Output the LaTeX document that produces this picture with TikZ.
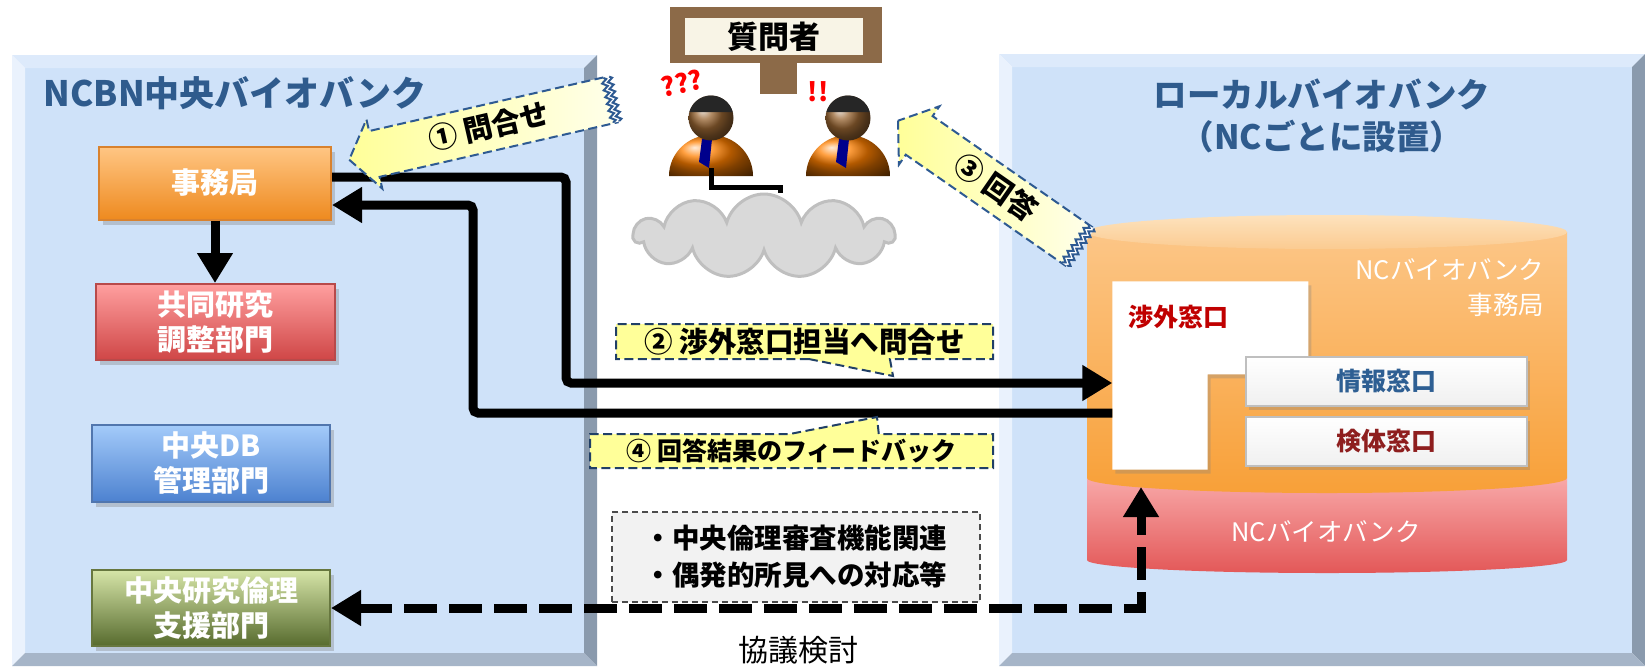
\documentclass[tikz,border=0pt]{standalone}
\usepackage{fontspec}
\setmainfont{Noto Sans CJK JP}
\usetikzlibrary{arrows.meta,shapes.arrows,shapes.callouts,shapes.symbols,shadows,decorations.pathmorphing}

\definecolor{panelface}{HTML}{CFE2F9}
\definecolor{paneltop}{HTML}{DDEAFB}
\definecolor{panelleft}{HTML}{EAF2FD}
\definecolor{panelright}{HTML}{8A9AAD}
\definecolor{panelbottom}{HTML}{A6B5C8}
\definecolor{titleblue}{HTML}{2F5B8D}
\definecolor{memo}{HTML}{FFFF99}
\definecolor{memoline}{HTML}{2E5A92}
\definecolor{wood}{HTML}{8C6A48}
\definecolor{signface}{HTML}{F8F4E6}
\definecolor{orgtop}{HTML}{FCC687}
\definecolor{orgbot}{HTML}{F8A038}
\definecolor{lidtop}{HTML}{FDE2BD}
\definecolor{lidbot}{HTML}{FBCB91}
\definecolor{pinktop}{HTML}{F8A8A8}
\definecolor{pinkbot}{HTML}{E35858}
\definecolor{shogaired}{HTML}{C00000}
\definecolor{jyohoblue}{HTML}{2E5F93}
\definecolor{kentaired}{HTML}{8E1E1E}
\definecolor{jimutop}{HTML}{FFC684}
\definecolor{jimubot}{HTML}{EE8A1F}
\definecolor{jimuline}{HTML}{D9822E}
\definecolor{kyodotop}{HTML}{FF9F9F}
\definecolor{kyodobot}{HTML}{CF4646}
\definecolor{kyodoline}{HTML}{B84A4A}
\definecolor{cdbtop}{HTML}{A4CBFA}
\definecolor{cdbbot}{HTML}{4D82D0}
\definecolor{cdbline}{HTML}{5176AE}
\definecolor{rinritop}{HTML}{D6E5A8}
\definecolor{rinribot}{HTML}{576B2E}
\definecolor{rinriline}{HTML}{67773F}

\tikzset{
  dept/.style={rectangle, inner sep=0, top color=#1top, bottom color=#1bot,
    draw=#1line, line width=0.2mm, text=white, align=center,
    font=\bfseries\fontsize{2.9mm}{3.5mm}\selectfont,
    drop shadow={opacity=0.35, shadow xshift=0.4mm, shadow yshift=-0.5mm}},
  win/.style={rectangle, inner sep=0, minimum width=28.1mm, minimum height=4.9mm,
    top color=white, bottom color=black!6, draw=black!25, line width=0.15mm,
    font=\bfseries\fontsize{2.5mm}{3mm}\selectfont,
    drop shadow={opacity=0.3, shadow xshift=0.3mm, shadow yshift=-0.4mm}},
  flow/.style={line width=0.9mm, rounded corners=0.5mm,
    -{Triangle[length=3mm,width=3.4mm]}},
  dflow/.style={line width=0.9mm, dash pattern=on 3.3mm off 1.2mm,
    {Triangle[length=3mm,width=3.4mm]}-{Triangle[length=3mm,width=3.4mm]}},
  memoarrow/.style={single arrow, shape border rotate=180,
    single arrow tip angle=108, single arrow head extend=1.2mm,
    inner ysep=0.8mm, text height=2.4mm, text depth=0.5mm,
    left color=memo, right color=memo!20, draw=memoline, line width=0.2mm,
    dash pattern=on 0.9mm off 0.45mm,
    font=\bfseries\fontsize{2.9mm}{3.2mm}\selectfont},
  torn/.style={draw=memoline, line width=0.2mm, decorate,
    decoration={zigzag, amplitude=0.25mm, segment length=0.7mm}},
  memobox/.style={rectangle callout, inner sep=0, fill=memo,
    draw=memoline!70!black, line width=0.2mm, dash pattern=on 0.9mm off 0.45mm},
  note/.style={rectangle, fill=black!5, draw=black!70, line width=0.15mm,
    dash pattern=on 0.6mm off 0.4mm, minimum width=36.8mm, minimum height=9mm,
    align=left, font=\bfseries\fontsize{2.75mm}{3.7mm}\selectfont}
}

\begin{document}
\begin{tikzpicture}[x=0.1mm,y=-0.1mm]
\useasboundingbox (0,0) rectangle (1645,666);

% the two bevelled panels
\foreach \l/\r/\t in {12/597/55, 999/1645/54}{
  \fill[panelface] (\l+13,\t+13) rectangle (\r-13,653);
  \fill[paneltop] (\l,\t) -- (\r,\t) -- (\r-13,\t+13) -- (\l+13,\t+13) -- cycle;
  \fill[panelleft] (\l,\t) -- (\l+13,\t+13) -- (\l+13,653) -- (\l,666) -- cycle;
  \fill[panelright] (\r,\t) -- (\r,666) -- (\r-13,653) -- (\r-13,\t+13) -- cycle;
  \fill[panelbottom] (\l,666) -- (\l+13,653) -- (\r-13,653) -- (\r,666) -- cycle;
}

\node[anchor=west, inner sep=0, text=titleblue, font=\bfseries\fontsize{3.5mm}{4mm}\selectfont]
  (ncbn) at (43,93) {NCBN中央バイオバンク};
\node[align=center, inner sep=0, text=titleblue, font=\bfseries\fontsize{3.35mm}{4.2mm}\selectfont]
  (local) at (1322,116) {ローカルバイオバンク\\（NCごとに設置）};

% central biobank units
\node[dept=jimu, minimum width=23.2mm, minimum height=7.3mm]
  (jimu) at (215,183) {事務局};
\node[dept=kyodo, minimum width=23.9mm, minimum height=7.6mm]
  (kyodo) at (215,322) {共同研究\\調整部門};
\node[dept=cdb, minimum width=23.8mm, minimum height=7.7mm]
  (cdb) at (211,463) {中央DB\\管理部門};
\node[dept=rinri, minimum width=23.8mm, minimum height=7.6mm]
  (rinri) at (211,608) {中央研究倫理\\支援部門};
\draw[flow] (jimu) -- (kyodo);

% NC biobank cylinder
\shade[top color=pinktop, bottom color=pinkbot] (1087,478) -- (1087,560)
  arc[start angle=180, end angle=360, x radius=24mm, y radius=1.3mm] -- (1567,478) -- cycle;
\shade[top color=orgtop, bottom color=orgbot] (1087,232) -- (1087,478)
  arc[start angle=180, end angle=360, x radius=24mm, y radius=1.5mm] -- (1567,232) -- cycle;
\shade[top color=lidtop, bottom color=lidbot] (1327,232) ellipse[x radius=24mm, y radius=1.7mm];
\node[anchor=east, align=right, inner sep=0, text=white, font=\fontsize{2.55mm}{3.5mm}\selectfont]
  (ncjimu) at (1545,288) {NCバイオバンク\\事務局};
\node[text=white, inner sep=0, font=\fontsize{2.55mm}{3mm}\selectfont]
  (ncbank) at (1326,532) {NCバイオバンク};

% windows
\node[inner sep=0, minimum width=9.4mm, minimum height=18.7mm] (shogai) at (1160,375.5) {};
\fill[white, drop shadow={opacity=0.3, shadow xshift=0.3mm, shadow yshift=-0.4mm}]
  (shogai.south west) -- (shogai.north west) -- ++(196,0) -- ++(0,93)
  -| (shogai.south east) -- cycle;
\node[anchor=west, inner sep=0, text=shogaired, font=\bfseries\fontsize{2.5mm}{3mm}\selectfont]
  (shogaitxt) at (1128,317) {渉外窓口};
\node[win, text=jyohoblue] (jyoho) at (1386.5,381.5) {情報窓口};
\node[win, text=kentaired] (kentai) at (1386.5,441.5) {検体窓口};

% inquiry and feedback lines
\draw[flow] ([yshift=0.6mm]jimu.east) -| (566,383) -- (shogai.west |- 0,383);
\draw[flow] (shogai.west |- 0,413) -| (473,205) -- (jimu.east |- 0,205);
\coordinate (ncin) at (1141,487);
\draw[dflow] (rinri.east) -| (ncin);

% labels on the lines
\node[memobox, minimum width=37.7mm, minimum height=3.5mm,
  callout absolute pointer={(893,376)}, callout pointer width=8.1mm,
  font=\bfseries\fontsize{2.85mm}{3mm}\selectfont]
  (step2) at (804.5,341.5) {② 渉外窓口担当へ問合せ};
\node[memobox, minimum width=40.3mm, minimum height=3.4mm,
  callout absolute pointer={(877,417)}, callout pointer width=8.9mm,
  font=\bfseries\fontsize{2.5mm}{3mm}\selectfont]
  (step4) at (791.5,451) {④ 回答結果のフィードバック};
\node[note] (topics) at (796,557) {・中央倫理審査機能関連\\・偶発的所見への対応等};
\node[inner sep=0, font=\fontsize{3mm}{3.6mm}\selectfont] (kyogi) at (798,650) {協議検討};

% sign board
\fill[wood] (670,7) rectangle (882,63);
\fill[wood] (760,63) rectangle (797,94);
\node[fill=signface, inner sep=0, minimum width=17.8mm, minimum height=3.7mm,
  font=\bfseries\fontsize{3.1mm}{3.5mm}\selectfont] (sign) at (774,36.5) {質問者};

% the two askers
\foreach \px in {711,848}{
  \shade[ball color=orange] (\px-42,176)
    arc[start angle=180, end angle=0, x radius=4.2mm, y radius=4.1mm] -- cycle;
  \fill[blue!55!black] (\px-9,139) -- (\px+1,139) -- (\px-2,168) -- (\px-12,162) -- cycle;
  \shade[ball color=brown!80!black] (\px,118) circle[radius=2.25mm];
  \fill[black!85] (\px-21.7,112.2)
    arc[start angle=165, end angle=15, radius=2.25mm] -- cycle;
}
\node[rotate=12, text=red, inner sep=0, font=\bfseries\fontsize{2.6mm}{3mm}\selectfont]
  (puzzled) at (682,83) {???};
\node[text=red, inner sep=0, font=\bfseries\fontsize{2.6mm}{3mm}\selectfont]
  (solved) at (818,92) {!!};

\node[cloud, cloud puffs=11, aspect=3.1, minimum width=26mm, minimum height=8.4mm,
  fill=black!15, draw=black!25, line width=0.3mm] (cloud) at (764,236) {};
\coordinate (asker) at (711,168);
\draw[line width=0.5mm] (asker) -- ++(0,19) -| ([xshift=1.6mm]cloud.north);

% question and answer arrows, with torn tail ends
\node[memoarrow, rotate=12.9, minimum height=27mm, anchor=tip] (step1) at (348,160) {① 問合せ};
\node[memoarrow, rotate=-34.8, minimum height=22mm, anchor=tip] (step3) at (897,120) {③ 回答};
\begin{scope}[shift={(step1.east)}, rotate=12.9]
  \fill[white] (-5,-23) rectangle (2,23);
  \draw[torn] (-5,-23) -- (-5,23);
  \draw[torn] (1,-23) -- (1,23);
\end{scope}
\begin{scope}[shift={(step3.east)}, rotate=-34.8]
  \fill[white] (-5,-23) rectangle (2,23);
  \draw[torn] (-5,-23) -- (-5,23);
  \draw[torn] (1,-23) -- (1,23);
\end{scope}
\end{tikzpicture}
\end{document}
